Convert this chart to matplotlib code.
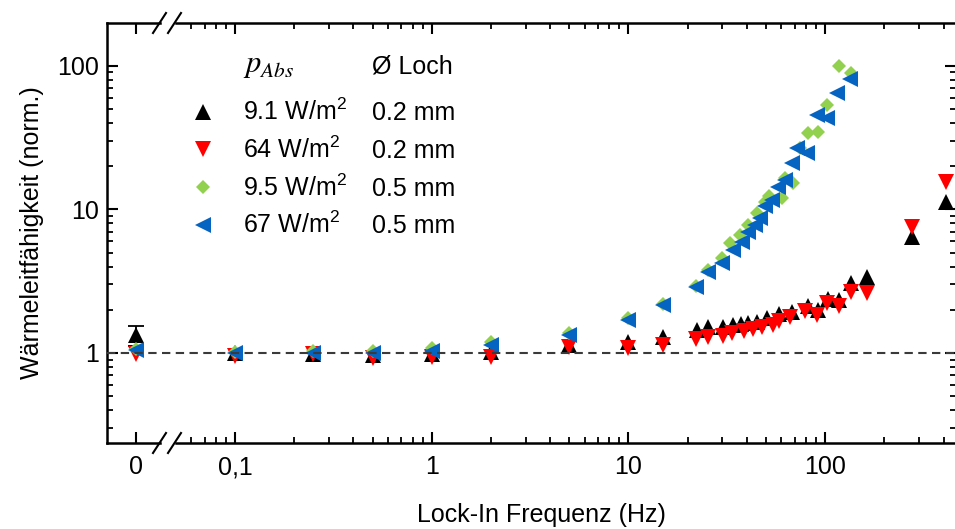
import matplotlib.pyplot as plt
from matplotlib.lines import Line2D
from matplotlib import transforms
from matplotlib.ticker import FixedLocator, FixedFormatter, LogLocator, NullFormatter

plt.rcParams['font.family'] = ['Liberation Sans', 'DejaVu Sans']
plt.rcParams['mathtext.fontset'] = 'custom'
plt.rcParams['mathtext.rm'] = 'Liberation Sans'
plt.rcParams['mathtext.default'] = 'regular'

# values at 0 Hz (left of the axis break)
zero_black = 1.33
zero_black_err = 0.21
zero_red = 0.98
zero_green = 1.07
zero_blue = 1.05

# 9.1 W/m2, 0.2 mm
freq_black = [0.1, 0.25, 0.5, 1, 2, 5, 10, 15, 22.2, 25.5, 30.2, 34.0, 37.3, 40.7, 44.8,
              50.6, 58.0, 67.9, 82.3, 92.5, 104, 117, 136, 163, 275, 412]
val_black = [1.0, 0.98, 0.97, 0.98, 1.02, 1.13, 1.2, 1.30, 1.45, 1.51, 1.51, 1.57, 1.59, 1.63, 1.65,
             1.75, 1.87, 1.94, 2.13, 1.99, 2.37, 2.34, 3.06, 3.4, 6.46, 11.3]

# 64 W/m2, 0.2 mm
freq_red = [0.1, 0.25, 0.5, 1, 2, 5, 10, 15, 22.0, 25.5, 30.2, 33.7, 38.5, 43.2, 47.8,
            54.3, 58.6, 66.2, 79.2, 91, 102, 117, 136, 163, 275, 412]
val_red = [0.96, 0.98, 0.93, 0.94, 0.94, 1.10, 1.08, 1.14, 1.25, 1.29, 1.31, 1.37, 1.42, 1.46, 1.51,
           1.57, 1.68, 1.79, 1.96, 1.84, 2.22, 2.13, 2.67, 2.61, 7.6, 15.6]

# 9.5 W/m2, 0.5 mm
freq_green = [0.1, 0.25, 0.5, 1, 2, 5, 10, 15, 22, 25.5, 30, 32.8, 36.9, 40.7, 45.2,
              49.4, 52, 60.1, 62.5, 68.9, 74.7, 82.3, 92.5, 102, 118, 136]
val_green = [1.02, 1.04, 1.04, 1.08, 1.19, 1.38, 1.76, 2.2, 2.95, 3.8, 4.6, 5.8, 6.6, 7.8, 9.4,
             11.2, 12.4, 12.0, 16.5, 15.2, 26.7, 34.3, 34.8, 53.5, 100, 89]

# 67 W/m2, 0.5 mm
freq_blue = [0.1, 0.25, 0.5, 1, 2, 5, 10, 15, 22, 25.5, 29.9, 34.1, 37.6, 40.7, 44.0,
             46.6, 49.4, 53.5, 57.8, 62.5, 67.6, 71.8, 80.5, 90.6, 102, 115, 134]
val_blue = [1.0, 1.0, 1.0, 1.04, 1.13, 1.33, 1.70, 2.16, 2.9, 3.67, 4.22, 5.22, 5.97, 7.0, 7.8,
            8.7, 10.5, 11.6, 14.4, 16.1, 21, 26.7, 24.6, 45.6, 43.2, 64.5, 80.7]

legend_power = ['9.1 W/m$^2$', '64 W/m$^2$', '9.5 W/m$^2$', '67 W/m$^2$']
legend_hole = ['0.2 mm', '0.2 mm', '0.5 mm', '0.5 mm']

colors = ['#000000', '#ff0000', '#92d050', '#0563c1']
markers = ['^', 'v', 'D', '<']
sizes = [11, 11, 7.5, 11]

W, H = 955, 529


def box(l, t, r, b):
    return [l / W, 1 - b / H, (r - l) / W, (b - t) / H]


fig = plt.figure(figsize=(W / 100, H / 100), dpi=100)
ax0 = fig.add_axes(box(107, 23, 160, 443))
ax1 = fig.add_axes(box(176, 23, 956, 443), sharey=ax0)

zeros = [zero_black, zero_red, zero_green, zero_blue]
freqs = [freq_black, freq_red, freq_green, freq_blue]
vals = [val_black, val_red, val_green, val_blue]

ax0.errorbar([0], [zero_black], yerr=[zero_black_err], fmt='none', ecolor='black',
             elinewidth=1.3, capsize=6, capthick=1.3, zorder=2)
for z, f, v, c, m, s in zip(zeros, freqs, vals, colors, markers, sizes):
    ax0.plot([0], [z], ls='none', marker=m, ms=s, color=c, mew=0, zorder=3)
    ax1.plot(f, v, ls='none', marker=m, ms=s, color=c, mew=0, zorder=3, clip_on=False)

# reference line at 1 across both parts
tr = transforms.blended_transform_factory(fig.transFigure, ax1.transData)
fig.add_artist(Line2D([107 / W, 956 / W], [1, 1], transform=tr, color='#3a3a3a',
                      lw=1.5, ls=(0, (4, 2.6)), zorder=1))

ax0.set_yscale('log')
ax0.set_ylim(0.236, 199)
ax0.set_xlim(-29, 24)
ax1.set_xscale('log')
ax1.set_xlim(0.0501, 463)

for ax in (ax0, ax1):
    for s in ax.spines.values():
        s.set_linewidth(1.8)
    ax.tick_params(which='both', direction='in', labelsize=18, top=True)
    ax.tick_params(which='major', length=8, width=1.5)
    ax.tick_params(which='minor', length=4, width=1.3)
    ax.tick_params(axis='x', pad=9)
    ax.tick_params(axis='y', pad=6)

ax0.spines['right'].set_visible(False)
ax0.tick_params(which='both', right=False)
ax0.xaxis.set_major_locator(FixedLocator([0]))
ax0.xaxis.set_major_formatter(FixedFormatter(['0']))
ax0.xaxis.set_minor_locator(FixedLocator([]))
ax0.yaxis.set_major_locator(FixedLocator([1, 10, 100]))
ax0.yaxis.set_major_formatter(FixedFormatter(['1', '10', '100']))
ax0.yaxis.set_minor_locator(LogLocator(base=10, subs=range(2, 10), numticks=20))
ax0.yaxis.set_minor_formatter(NullFormatter())

ax1.spines['left'].set_visible(False)
ax1.tick_params(which='both', left=False, right=True, labelleft=False)
ax1.xaxis.set_major_locator(FixedLocator([0.1, 1, 10, 100]))
ax1.xaxis.set_major_formatter(FixedFormatter(['0,1', '1', '10', '100']))
ax1.xaxis.set_minor_locator(LogLocator(base=10, subs=range(2, 10), numticks=20))
ax1.xaxis.set_minor_formatter(NullFormatter())

# break marks
for yb in (23, 443):
    for x0 in (153, 168):
        fig.add_artist(Line2D([x0 / W, (x0 + 13) / W], [1 - (yb + 10) / H, 1 - (yb - 10) / H],
                              transform=fig.transFigure, color='black', lw=1.5))

ax0.set_ylabel('Wärmeleitfähigkeit (norm.)', fontsize=18)
ax0.yaxis.set_label_coords(-1.19, 0.5)
fig.text(541 / W, 1 - 515 / H, 'Lock-In Frequenz (Hz)', fontsize=18, ha='center', va='center')

# legend built as a small table
fig.text(243 / W, 1 - 72 / H, r'$\mathit{p}_{\mathit{Abs}}$', math_fontfamily='stix',
         fontsize=22, ha='left', va='baseline')
fig.text(372 / W, 1 - 73.3 / H, 'Ø Loch', fontsize=18, ha='left', va='baseline')
row_base = [120, 158, 195.5, 233.3]
for i in range(4):
    yb = row_base[i]
    fig.add_artist(Line2D([203 / W], [1 - (yb - 8.5) / H], transform=fig.transFigure,
                          ls='none', marker=markers[i], ms=sizes[i], color=colors[i], mew=0))
    fig.text(243 / W, 1 - yb / H, legend_power[i], fontsize=18, ha='left', va='baseline')
    fig.text(372 / W, 1 - yb / H, legend_hole[i], fontsize=18, ha='left', va='baseline')

fig.savefig('out.png', dpi=100)
